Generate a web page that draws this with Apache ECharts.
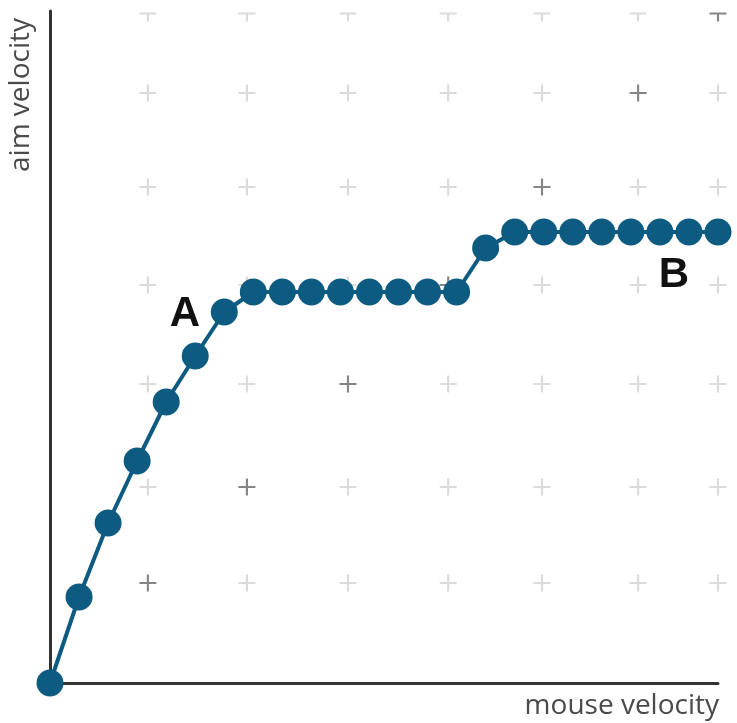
<!DOCTYPE html>
<html>
<head>
<meta charset="utf-8">
<script src="https://cdn.jsdelivr.net/npm/echarts@6/dist/echarts.min.js"></script>
<style>
html,body{margin:0;padding:0;background:#fff;}
#main{width:737px;height:723px;}
</style>
</head>
<body>
<div id="main"></div>
<script>
// point index along mouse velocity, aim velocity
var mouseVel = [0,1,2,3,4,5,6,7,8,9,10,11,12,13,14,15,16,17,18,19,20,21,22,23];
var aimVel = [0, 86, 160, 222, 281, 327, 371, 391, 391, 391, 391, 391, 391, 391, 391, 435, 451, 451, 451, 451, 451, 451, 451, 451];

// background "+" marks
var crossX = [3.37, 6.78, 10.26, 13.71, 16.94, 20.25, 23];
var crossY = [100, 196, 299, 398, 496, 590, 670];

var lightCross = [], darkCross = [], topLight = [], topDark = [];
for (var i = 0; i < crossX.length; i++) {
	for (var j = 0; j < crossY.length; j++) {
		var p = [crossX[i], crossY[j]];
		var last = (j == crossY.length - 1);
		if (i == j) { (last ? topDark : darkCross).push(p); }
		else { (last ? topLight : lightCross).push(p); }
	}
}

var plus = 'path://M7,0H9V7H16V9H9V16H7V9H0V7H7Z';
var tee = 'path://M0,7H16V9H9V16H7V9H0Z';
var lineColor = '#0e5b82';

var chart = echarts.init(document.getElementById('main'));
var option = {
	animation: false,
	grid: {left: 50, right: 19, top: 11, bottom: 40},
	xAxis: {
		type: 'value', min: 0, max: 23,
		axisLine: {show: true, lineStyle: {color: '#333', width: 3}},
		axisTick: {show: false},
		axisLabel: {show: false},
		splitLine: {show: false}
	},
	yAxis: {
		type: 'value', min: 0, max: 672,
		axisLine: {show: true, lineStyle: {color: '#333', width: 3}},
		axisTick: {show: false},
		axisLabel: {show: false},
		splitLine: {show: false}
	},
	graphic: [
		{type: 'text', x: 21, y: 95, rotation: Math.PI / 2,
			style: {text: 'aim velocity', font: '28px "Open Sans"', fill: '#4a4a4a', align: 'center', verticalAlign: 'middle'}},
		{type: 'text', x: 719, y: 706,
			style: {text: 'mouse velocity', font: '28px "Open Sans"', fill: '#4a4a4a', align: 'right', verticalAlign: 'middle'}},
		{type: 'text', x: 185, y: 314, z: 10,
			style: {text: 'A', font: 'bold 42px "Liberation Sans"', fill: '#111', align: 'center', verticalAlign: 'middle'}},
		{type: 'text', x: 674, y: 275, z: 10,
			style: {text: 'B', font: 'bold 42px "Liberation Sans"', fill: '#111', align: 'center', verticalAlign: 'middle'}}
	],
	series: [
		{type: 'scatter', data: lightCross, symbol: plus, symbolSize: 17, itemStyle: {color: '#d2d2d2'}, z: 1, silent: true},
		{type: 'scatter', data: darkCross, symbol: plus, symbolSize: 17, itemStyle: {color: '#666'}, z: 1, silent: true},
		{type: 'scatter', data: topLight, symbol: tee, symbolSize: [17, 9], symbolOffset: [0, 4], itemStyle: {color: '#d2d2d2'}, z: 1, silent: true},
		{type: 'scatter', data: topDark, symbol: tee, symbolSize: [17, 9], symbolOffset: [0, 4], itemStyle: {color: '#666'}, z: 1, silent: true},
		{
			type: 'line',
			data: mouseVel.map(function (x, k) { return [x, aimVel[k]]; }),
			symbol: 'circle', symbolSize: 27,
			showAllSymbol: true,
			lineStyle: {color: lineColor, width: 4},
			itemStyle: {color: lineColor},
			clip: false,
			z: 5
		}
	]
};
chart.setOption(option);
</script>
</body>
</html>
